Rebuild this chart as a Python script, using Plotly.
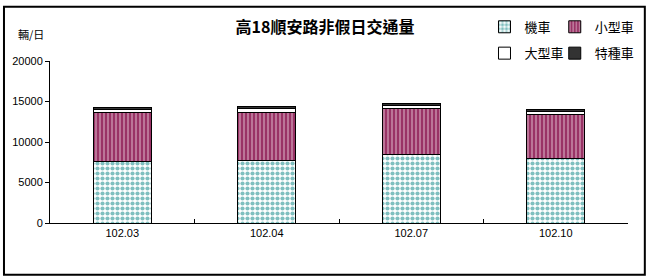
import plotly.graph_objects as go

categories = ["102.03", "102.04", "102.07", "102.10"]
moto = [7630, 7710, 8430, 7950]        # 機車
small_car = [6020, 5980, 5700, 5420]   # 小型車
large_car = [400, 440, 370, 430]       # 大型車
special = [200, 240, 235, 210]         # 特種車
y_ticks = [0, 5000, 10000, 15000, 20000]

W, H = 652, 278
L, R, T, B = 48, 20, 57, 55
pw, ph = W - L - R, H - T - B

CJK = "Noto Sans CJK TC"
LAT = "Liberation Sans"


def px_x(px):
    return (px - L) / pw


def px_y(py):
    return (H - B - py) / ph


fig = go.Figure()
line = dict(color="black", width=1)
fig.add_trace(go.Bar(x=categories, y=moto, name="機車", legend="legend",
                     marker=dict(color="white", line=line,
                                 pattern=dict(shape=".", fgcolor="#008080", bgcolor="white",
                                              size=5, solidity=0.55))))
fig.add_trace(go.Bar(x=categories, y=small_car, name="小型車", legend="legend2",
                     marker=dict(color="#993366", line=line,
                                 pattern=dict(shape="|", fgcolor="white", bgcolor="#993366",
                                              size=4, solidity=0.33))))
fig.add_trace(go.Bar(x=categories, y=large_car, name="大型車", legend="legend3",
                     marker=dict(color="white", line=line)))
fig.add_trace(go.Bar(x=categories, y=special, name="特種車", legend="legend4",
                     marker=dict(color="#333333", line=line)))

leg_font = dict(family=CJK, size=13, color="black")


def leg(px, py):
    return dict(orientation="h", x=px_x(px), xanchor="left", y=px_y(py), yanchor="middle",
                font=leg_font, bgcolor="rgba(0,0,0,0)", itemwidth=30)


fig.update_layout(
    width=W, height=H,
    margin=dict(l=L, r=R, t=T, b=B),
    barmode="stack", bargap=0.6,
    paper_bgcolor="white", plot_bgcolor="white",
    showlegend=True,
    title=dict(text="<b>高18順安路非假日交通量</b>", x=325 / W, xanchor="center",
               y=1 - 27 / H, yanchor="middle",
               font=dict(family=CJK, size=16, color="black")),
    legend=leg(487, 22),
    legend2=leg(558, 22),
    legend3=leg(487, 49),
    legend4=leg(558, 49),
    xaxis=dict(showline=True, linecolor="black", linewidth=1, ticks="inside",
               tickson="boundaries", ticklen=4, tickcolor="black",
               tickfont=dict(family=LAT, size=11, color="black"), showgrid=False),
    yaxis=dict(range=[0, 20000], tickvals=y_ticks, tickformat="d", showline=True,
               linecolor="black", linewidth=1, ticks="outside", ticklen=4, tickcolor="black",
               tickfont=dict(family=LAT, size=11, color="black"), showgrid=False,
               zeroline=False),
    annotations=[dict(text="輛/日", xref="paper", yref="paper", x=px_x(29), y=px_y(29),
                      xanchor="center", yanchor="middle", showarrow=False,
                      font=dict(family=CJK, size=11, color="black"))],
    shapes=[dict(type="rect", xref="paper", yref="paper",
                 x0=px_x(1.5), x1=px_x(649), y0=px_y(276), y1=px_y(1.5),
                 line=dict(color="black", width=2), fillcolor="rgba(0,0,0,0)")],
)

fig.write_html("out.html")
